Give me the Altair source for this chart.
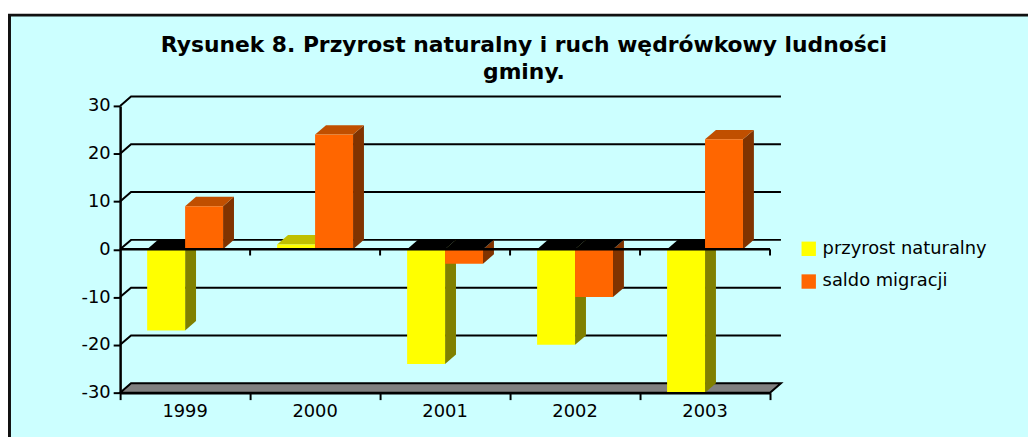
import altair as alt
import pandas as pd

# ---- data ----
years = ["1999", "2000", "2001", "2002", "2003"]
przyrost_naturalny = [-17, 1, -24, -20, -30]
saldo_migracji = [9, 24, -3, -10, 23]
series_names = ["przyrost naturalny", "saldo migracji"]
y_ticks = [-30, -20, -10, 0, 10, 20, 30]
title_lines = ["Rysunek 8. Przyrost naturalny i ruch wędrówkowy ludności", "gminy."]

# ---- styling ----
FRONT = ["#FFFF00", "#FF6600"]
SIDE = ["#808000", "#803300"]
TOP = ["#C0C000", "#C04F00"]
CAP_NEG = "#000000"
BG = "#CCFFFF"
FLOOR = "#808080"
FONT = "DejaVu Sans"

N = len(years)
Y_MIN, Y_MAX = min(y_ticks), max(y_ticks)
BAR_W = 0.292           # bar width in category units
GAP = (1 - 2 * BAR_W) / 2
DX = 0.084              # 3-D depth, category units
DY = 1.97               # 3-D depth, value units
W, H = 655, 289

xs = alt.Scale(domain=[0, N], nice=False, zero=False)
ys = alt.Scale(domain=[Y_MIN, Y_MAX], nice=False, zero=False)
XAX = alt.Axis(values=list(range(N + 1)), labels=False, title=None, tickSize=7, tickWidth=2,
               tickColor="black", domainColor="black", domainWidth=2.5, grid=False, zindex=1)
YAX = alt.Axis(values=y_ticks, title=None, tickSize=7, tickWidth=2, tickColor="black",
               domainColor="black", domainWidth=2.5, grid=False, labelFont=FONT,
               labelFontSize=18, labelColor="black", labelPadding=3, zindex=1,
               labelExpr="'' + datum.value")


def X(f):
    return alt.X(f, type="quantitative", scale=xs, axis=XAX)


def Y(f):
    return alt.Y(f, type="quantitative", scale=ys, axis=YAX, stack=None)


# ---- build geometry from the data ----
fronts = []
faces = {"side0": [], "side1": [], "top0": [], "top1": [], "cap": []}
for s, vals in enumerate([przyrost_naturalny, saldo_migracji]):
    for i, v in enumerate(vals):
        x0 = i + GAP + s * BAR_W
        x1 = x0 + BAR_W
        lo, hi = min(0, v), max(0, v)
        fronts.append(dict(series=series_names[s], x=x0, x2=x1, y=lo, y2=hi))
        g = f"{s}-{i}"
        faces[f"side{s}"] += [
            dict(g=g, x=x1, y=lo, y2=hi),
            dict(g=g, x=x1 + DX, y=lo + DY, y2=hi + DY),
        ]
        key = f"top{s}" if v > 0 else "cap"
        t = hi
        faces[key] += [
            dict(g=g, x=x0, y=t, y2=t),
            dict(g=g, x=x0 + DX, y=t, y2=t + DY),
            dict(g=g, x=x1, y=t, y2=t + DY),
            dict(g=g, x=x1 + DX, y=t + DY, y2=t + DY),
        ]
face_fill = {"side0": SIDE[0], "side1": SIDE[1], "top0": TOP[0], "top1": TOP[1], "cap": CAP_NEG}
fronts_df = pd.DataFrame(fronts)

grid = []
for t in y_ticks:
    if t == Y_MIN:
        continue
    grid += [dict(g=t, o=0, x=0, y=t), dict(g=t, o=1, x=DX, y=t + DY),
             dict(g=t, o=2, x=N + DX, y=t + DY)]
grid_df = pd.DataFrame(grid)

floor_df = pd.DataFrame([
    dict(g=0, x=0, y=Y_MIN, y2=Y_MIN),
    dict(g=0, x=DX, y=Y_MIN, y2=Y_MIN + DY),
    dict(g=0, x=N, y=Y_MIN, y2=Y_MIN + DY),
    dict(g=0, x=N + DX, y=Y_MIN + DY, y2=Y_MIN + DY),
])

zero_df = pd.DataFrame([dict(x=0, x2=N, y=0)])
zticks_df = pd.DataFrame([dict(x=k, y=0, y2=-1.3) for k in range(1, N + 1)])
labels_df = pd.DataFrame([dict(year=yv, x=i + 0.5, y=Y_MIN) for i, yv in enumerate(years)])
title_df = pd.DataFrame([dict(t="\n".join(title_lines))])
one = pd.DataFrame([dict(a=1)])

# ---- layers ----
box = alt.Chart(one).mark_rect(fill=BG, stroke="#111111", strokeWidth=3).encode(
    x=alt.value(-111.5), x2=alt.value(1200), y=alt.value(-91.5), y2=alt.value(600)
)

floor = alt.Chart(floor_df).mark_area(fill=FLOOR, stroke="black", strokeWidth=2).encode(
    x=X("x"), y=Y("y"), y2="y2:Q", detail="g:N"
)

gridlines = alt.Chart(grid_df).mark_line(color="black", strokeWidth=2).encode(
    x=X("x"), y=Y("y"), detail="g:N", order="o:Q"
)

face_layers = [
    alt.Chart(pd.DataFrame(rows)).mark_area(fill=face_fill[k], strokeWidth=0).encode(
        x=X("x"), y=Y("y"), y2="y2:Q", detail="g:N"
    )
    for k, rows in faces.items() if rows
]

front_layer = alt.Chart(fronts_df).mark_rect().encode(
    x=X("x"), x2="x2:Q", y=Y("y"), y2="y2:Q",
    color=alt.Color("series:N", scale=alt.Scale(domain=series_names, range=FRONT),
                    legend=alt.Legend(title=None, orient="none", legendX=685, legendY=135,
                                      symbolType="square", symbolSize=210, symbolStrokeWidth=0,
                                      labelFont=FONT, labelFontSize=18, labelColor="black",
                                      labelLimit=0, rowPadding=15, labelOffset=5, padding=0)),
)

zero_line = alt.Chart(zero_df).mark_rule(color="black", strokeWidth=2.5).encode(
    x=X("x"), x2="x2:Q", y=Y("y")
)

zero_ticks = alt.Chart(zticks_df).mark_rule(color="black", strokeWidth=2).encode(
    x=X("x"), y=Y("y"), y2="y2:Q"
)

year_labels = alt.Chart(labels_df).mark_text(font=FONT, fontSize=18, color="black",
                                             baseline="middle", dy=20).encode(
    x=X("x"), y=Y("y"), text="year:N"
)

title = alt.Chart(title_df).mark_text(font=FONT, fontSize=22, fontWeight="bold", color="black",
                                      align="center", baseline="alphabetic", lineBreak="\n",
                                      lineHeight=27).encode(
    x=alt.value(407), y=alt.value(-54), text="t:N"
)

chart = alt.layer(
    box, floor, gridlines, *face_layers, front_layer, zero_line, zero_ticks, year_labels, title
).properties(
    width=W, height=H,
    autosize=alt.AutoSizeParams(type="none"),
    padding={"left": 113, "top": 97, "right": 1028 - 113 - W, "bottom": 429 - 97 - H},
).configure(background="white").configure_view(stroke=None)

chart.save("out.html", embed_options={"renderer": "svg", "actions": False})
